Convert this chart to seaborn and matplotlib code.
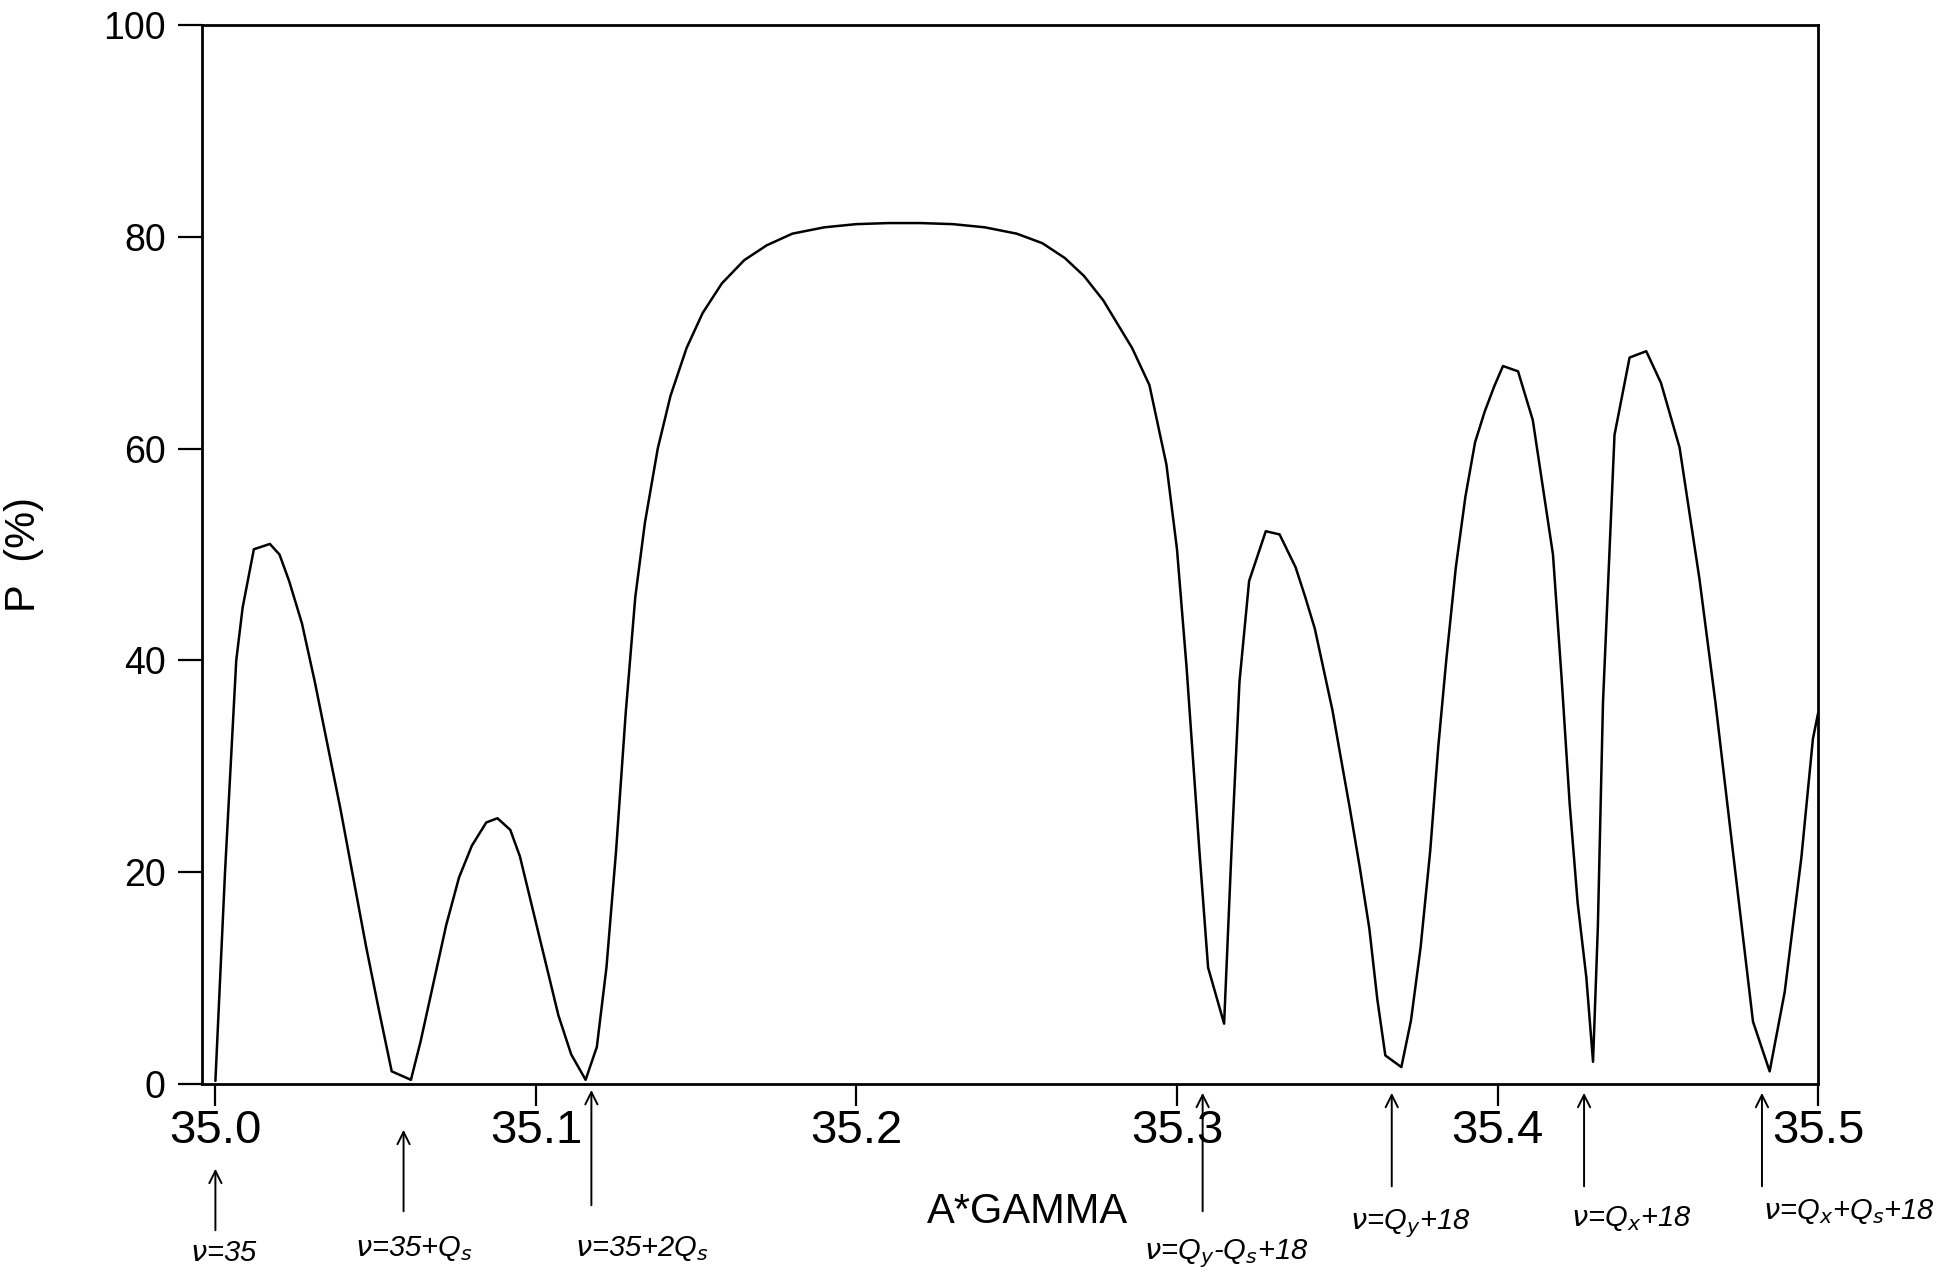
import matplotlib
matplotlib.use("Agg")
import matplotlib.pyplot as plt
import seaborn as sns
import pandas as pd

sns.set_theme(style="ticks")
plt.rcParams['font.family'] = ['Liberation Sans', 'DejaVu Sans']
plt.rcParams.update({"text.color": "black", "axes.labelcolor": "black",
                     "xtick.color": "black", "ytick.color": "black"})

# polarization vs a*gamma
a_gamma = [
    35.000, 35.003, 35.0065, 35.0085, 35.012, 35.017, 35.020, 35.023, 35.027, 35.031,
    35.035, 35.039, 35.043, 35.047, 35.051, 35.055, 35.061, 35.064, 35.068, 35.072,
    35.076, 35.080, 35.0845, 35.088, 35.092, 35.095, 35.099, 35.103, 35.107, 35.111,
    35.1155, 35.119, 35.122, 35.125, 35.128, 35.131, 35.134, 35.138, 35.142, 35.147,
    35.152, 35.158, 35.165, 35.172, 35.180, 35.190, 35.200, 35.210, 35.220, 35.230,
    35.240, 35.250, 35.258, 35.265, 35.271, 35.277, 35.282, 35.286, 35.2914, 35.2967,
    35.300, 35.303, 35.307, 35.3097, 35.3147, 35.317, 35.3195, 35.3225, 35.3277, 35.332,
    35.337, 35.340, 35.343, 35.3455, 35.3485, 35.351, 35.354, 35.357, 35.360, 35.3625,
    35.365, 35.370, 35.373, 35.376, 35.379, 35.3815, 35.384, 35.387, 35.390, 35.393,
    35.396, 35.399, 35.4017, 35.4064, 35.411, 35.4173, 35.420, 35.4225, 35.425, 35.4277,
    35.4298, 35.4313, 35.4329, 35.4365, 35.4412, 35.4464, 35.451, 35.4568, 35.463, 35.468,
    35.4735, 35.4797, 35.4849, 35.4896, 35.4948, 35.4984, 35.500,
]
polarization = [
    0.3, 20.0, 40.0, 45.0, 50.5, 51.0, 50.0, 47.5, 43.5, 38.0,
    32.0, 26.0, 19.5, 13.0, 7.0, 1.2, 0.4, 4.0, 9.5, 15.0,
    19.5, 22.5, 24.7, 25.1, 24.0, 21.5, 16.5, 11.5, 6.5, 2.8,
    0.4, 3.5, 11.0, 22.0, 35.0, 46.0, 53.0, 60.0, 65.0, 69.5,
    72.8, 75.6, 77.8, 79.2, 80.3, 80.9, 81.2, 81.3, 81.3, 81.2,
    80.9, 80.3, 79.4, 78.0, 76.3, 74.0, 71.5, 69.5, 66.0, 58.5,
    50.5, 39.3, 22.0, 11.0, 5.7, 22.0, 38.0, 47.5, 52.2, 51.9,
    48.8, 46.0, 43.0, 39.5, 35.3, 31.0, 25.9, 20.5, 14.7, 8.0,
    2.7, 1.6, 6.0, 12.9, 22.0, 31.8, 40.0, 48.8, 55.5, 60.6,
    63.5, 65.9, 67.8, 67.3, 62.7, 50.0, 38.3, 26.5, 17.1, 10.1,
    2.1, 14.8, 36.0, 61.3, 68.6, 69.2, 66.2, 60.1, 47.7, 36.0,
    21.8, 5.9, 1.2, 8.7, 21.4, 32.6, 35.0,
]

# hand-written resonance markers under the axis
marker_x = [35.0, 35.0587, 35.1173, 35.308, 35.367, 35.427, 35.4825]
marker_labels = [
    r"$\nu$=35", r"$\nu$=35+Q$_s$", r"$\nu$=35+2Q$_s$", r"$\nu$=Q$_y$-Q$_s$+18",
    r"$\nu$=Q$_y$+18", r"$\nu$=Q$_x$+18", r"$\nu$=Q$_x$+Q$_s$+18",
]
label_x = [35.0027, 35.062, 35.133, 35.3155, 35.3726, 35.4417, 35.5097]
arrow_head = [-0.0774, -0.0406, -0.003, -0.0057, -0.0057, -0.0057, -0.0057]
arrow_tail = [-0.1407, -0.1228, -0.1171, -0.1228, -0.0992, -0.0992, -0.0992]
label_y = [-0.1595, -0.1549, -0.1549, -0.1600, -0.1322, -0.1265, -0.1199]

x_ticks = [35.0, 35.1, 35.2, 35.3, 35.4, 35.5]
y_ticks = [0, 20, 40, 60, 80, 100]

df = pd.DataFrame({"a_gamma": a_gamma, "P": polarization})

fig = plt.figure(figsize=(19.53, 12.77), dpi=100)
ax = fig.add_axes([0.1034, 0.1511, 0.8275, 0.8293])
sns.lineplot(data=df, x="a_gamma", y="P", ax=ax, color="black", lw=1.8,
             estimator=None, sort=False)

ax.set_xlim(34.9958, 35.5)
ax.set_ylim(0, 100)
ax.set_xticks(x_ticks)
ax.set_xticklabels([f"{t:.1f}" for t in x_ticks],
                   fontfamily=['Liberation Sans Narrow', 'Liberation Sans'], fontsize=34)
ax.set_yticks(y_ticks)
ax.set_yticklabels([str(t) for t in y_ticks], fontsize=27)
ax.tick_params(axis="x", direction="out", length=16, width=1.6, pad=2)
ax.tick_params(axis="y", direction="out", length=17, width=1.6, pad=9)
for s in ax.spines.values():
    s.set_visible(True)
    s.set_linewidth(2)
    s.set_color("black")

ax.set_xlabel("A*GAMMA", fontsize=30)
ax.set_ylabel("P  (%)", fontsize=30)
ax.xaxis.set_label_coords(0.511, -0.102)
ax.yaxis.set_label_coords(-0.0978, 0.5005)

for x, lab, lx, hy, ty, ly in zip(marker_x, marker_labels, label_x, arrow_head, arrow_tail, label_y):
    ax.annotate("", xy=(x, hy), xycoords=("data", "axes fraction"),
                xytext=(x, ty), textcoords=("data", "axes fraction"),
                arrowprops=dict(arrowstyle="->", lw=1.4, color="black", mutation_scale=22),
                annotation_clip=False)
    ax.text(lx, ly, lab, transform=ax.get_xaxis_transform(), ha="center", va="center",
            fontsize=21, fontstyle="italic", color="black", clip_on=False)

fig.savefig("out.png", dpi=100, facecolor="white")
